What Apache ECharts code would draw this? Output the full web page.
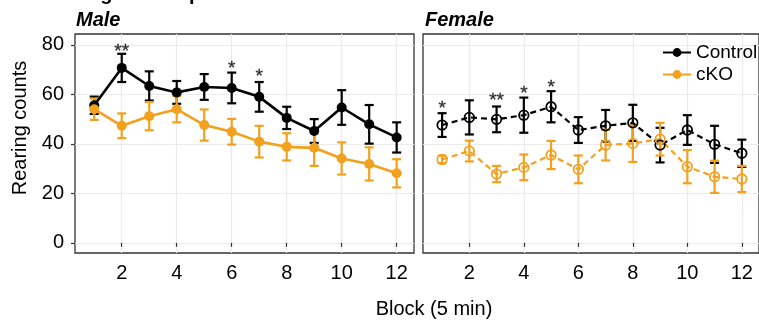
<!DOCTYPE html>
<html><head><meta charset="utf-8">
<script src="https://cdn.jsdelivr.net/npm/echarts@6/dist/echarts.min.js"></script>
<style>html,body{margin:0;padding:0;background:#fff}#c{width:759px;height:323px}</style>
</head><body><div id="c"></div>
<script>
const blocks = [1,2,3,4,5,6,7,8,9,10,11,12];
const xTicks = [2,4,6,8,10,12];
const yTicks = [0,20,40,60,80];
const maleControl   = [55.6,70.7,63.4,60.8,63.0,62.6,59.0,50.5,45.2,54.7,47.9,42.6];
const maleControlSE = [3.5,5.7,5.9,4.6,5.2,6.2,6.0,4.5,4.8,7.0,7.8,6.1];
const maleCKO       = [54.0,47.3,51.2,54.0,47.6,44.9,40.9,38.8,38.4,34.1,31.9,28.1];
const maleCKOSE     = [4.3,5.0,5.7,5.3,6.3,5.2,6.4,5.5,7.3,6.5,6.7,5.7];
const femaleControl   = [47.6,50.7,49.9,51.6,55.0,45.6,47.3,48.5,39.5,45.6,39.8,36.2];
const femaleControlSE = [4.8,6.9,5.2,7.1,6.3,5.2,6.4,7.3,7.0,6.0,7.5,5.5];
const femaleCKO       = [33.7,37.1,27.8,30.5,35.5,29.7,39.5,40.2,41.9,30.8,26.7,25.8];
const femaleCKOSE     = [1.5,4.2,3.3,5.2,5.7,5.6,6.2,7.5,6.6,6.7,6.5,5.3];
const maleSig   = ['','**','','','','*','*','','','','',''];
const maleSigY  = [null,79.3,null,null,null,72.4,69.2,null,null,null,null,null];
const femaleSig  = ['*','','**','*','*','','','','','','',''];
const femaleSigY = [56.3,null,59.4,62.3,64.7,null,null,null,null,null,null,null];
const panelTitles = ['Male','Female'];
const groupNames = ['Control','cKO'];

const FONT = 'Liberation Sans';
const BLACK = '#000000', ORANGE = '#F2A11F';

function errRender(color){
  return function(params, api){
    const x = api.value(0), m = api.value(1), e = api.value(2);
    const top = api.coord([x, m + e]), bot = api.coord([x, m - e]);
    const w = 4.5;
    const style = {stroke: color, lineWidth: 2.2};
    return {type:'group', children:[
      {type:'line', shape:{x1:top[0],y1:top[1],x2:bot[0],y2:bot[1]}, style},
      {type:'line', shape:{x1:top[0]-w,y1:top[1],x2:top[0]+w,y2:top[1]}, style},
      {type:'line', shape:{x1:bot[0]-w,y1:bot[1],x2:bot[0]+w,y2:bot[1]}, style}
    ]};
  };
}
function errSeries(vals, se, color, gi){
  return {type:'custom', xAxisIndex:gi, yAxisIndex:gi, z:2, silent:true,
    renderItem: errRender(color), encode:{x:0,y:1},
    data: blocks.map((b,i)=>[b, vals[i], se[i]])};
}
function lineSeries(name, vals, color, gi, hollow){
  return {type:'line', name, xAxisIndex:gi, yAxisIndex:gi, z:3,
    data: blocks.map((b,i)=>[b, vals[i]]),
    symbol:'circle', symbolSize: hollow ? 9.5 : 10,
    lineStyle:{color, width: hollow ? 2.2 : 2.6, type: hollow ? [6,4] : 'solid'},
    itemStyle: hollow ? {color:'rgba(0,0,0,0)', borderColor:color, borderWidth:1.8} : {color},
    emphasis:{disabled:true}, animation:false};
}
function sigSeries(labels, ys, gi){
  const data = [];
  blocks.forEach((b,i)=>{ if (labels[i]) data.push({value:[b, ys[i]], lab:labels[i]}); });
  return {type:'scatter', xAxisIndex:gi, yAxisIndex:gi, symbolSize:0, silent:true, z:4,
    data,
    label:{show:true, position:'inside', offset:[0,5], fontSize:19, fontFamily:FONT, color:'#000',
      textBorderColor:'#000', textBorderWidth:0.3, formatter: p => p.data.lab}};
}

const grids = [
  {left:75, top:34, width:339, height:219},
  {left:423, top:34, width:339, height:219}
].map(g => Object.assign(g, {show:true, borderColor:'#333', borderWidth:1.3, backgroundColor:'#fff'}));

const xAxes = [0,1].map(i => ({
  type:'value', gridIndex:i, min:0.3, max:12.63,
  axisLine:{show:false},
  axisTick:{show:true, customValues:xTicks, length:4, lineStyle:{color:'#333', width:1.2}},
  axisLabel:{customValues:xTicks, margin:10, fontSize:20, fontFamily:FONT, color:'#000'},
  splitLine:{show:true, lineStyle:{color:'#EBEBEB', width:1.2}}
}));
const yAxes = [0,1].map(i => ({
  type:'value', gridIndex:i, min:-4.1, max:84.4,
  axisLine:{show:false},
  axisTick:{show:i===0, customValues:yTicks, length:4, lineStyle:{color:'#333', width:1.2}},
  axisLabel:{show:i===0, customValues:yTicks, margin:11, fontSize:20, fontFamily:FONT, color:'#000'},
  splitLine:{show:true, lineStyle:{color:'#EBEBEB', width:1.2}}
}));

const chart = echarts.init(document.getElementById('c'), null, {renderer:'canvas'});
chart.setOption({
  animation:false,
  backgroundColor:'#fff',
  grid: grids,
  xAxis: xAxes,
  yAxis: yAxes,
  legend:{data:groupNames, orient:'vertical', left:657, top:38, itemWidth:28, itemHeight:11, itemGap:3,
    textStyle:{fontSize:19, fontFamily:FONT, color:'#000'}, selectedMode:false},
  graphic:[
    {type:'text', left:38, top:-16, style:{text:'Rearing in the open field', font:'bold 20px "Liberation Sans"', fill:'#000'}},
    {type:'text', x:76, y:20, style:{text:panelTitles[0], font:'italic bold 20px "Liberation Sans"', fill:'#000', verticalAlign:'middle'}},
    {type:'text', x:425, y:20, style:{text:panelTitles[1], font:'italic bold 20px "Liberation Sans"', fill:'#000', verticalAlign:'middle'}},
    {type:'text', x:20, y:128, rotation:Math.PI/2, style:{text:'Rearing counts', font:'20px "Liberation Sans"', fill:'#000', align:'center', verticalAlign:'middle'}},
    {type:'text', x:434, y:309, style:{text:'Block (5 min)', font:'20px "Liberation Sans"', fill:'#000', align:'center', verticalAlign:'middle'}}
  ],
  series:[
    errSeries(maleControl, maleControlSE, BLACK, 0),
    errSeries(maleCKO, maleCKOSE, ORANGE, 0),
    errSeries(femaleControl, femaleControlSE, BLACK, 1),
    errSeries(femaleCKO, femaleCKOSE, ORANGE, 1),
    lineSeries(groupNames[0], maleControl, BLACK, 0, false),
    lineSeries(groupNames[1], maleCKO, ORANGE, 0, false),
    lineSeries(groupNames[0], femaleControl, BLACK, 1, true),
    lineSeries(groupNames[1], femaleCKO, ORANGE, 1, true),
    sigSeries(maleSig, maleSigY, 0),
    sigSeries(femaleSig, femaleSigY, 1)
  ]
});
</script></body></html>
